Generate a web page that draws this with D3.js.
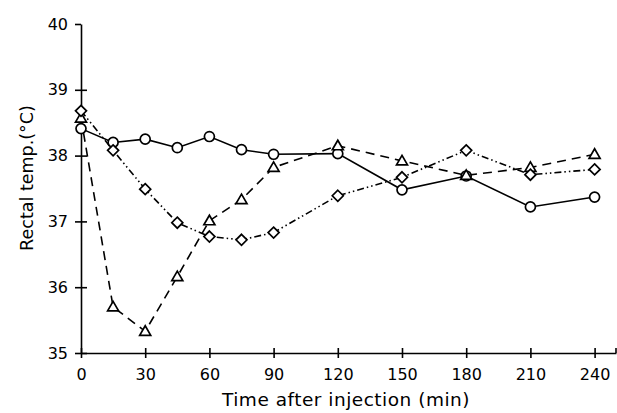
<!DOCTYPE html>
<html>
<head>
<meta charset="utf-8">
<script src="https://cdnjs.cloudflare.com/ajax/libs/d3/7.8.5/d3.min.js"></script>
<style>
	body { margin: 0; background: #fff; }
	svg { display: block; }
	.axis path, .axis line { stroke: #000; stroke-width: 1.6; fill: none; }
	.axis text { font-family: "DejaVu Sans", sans-serif; font-size: 16px; fill: #000; }
	.axisTitle { font-family: "DejaVu Sans", sans-serif; font-size: 17.5px; fill: #000; }
	.series { fill: none; stroke: #000; stroke-width: 1.6; }
	.marker { fill: #fff; stroke: #000; stroke-width: 1.7; }
</style>
</head>
<body>
<div id="chart"></div>
<script>

//---------------------------------------- Data ----------------------------------------

var times = [0, 15, 30, 45, 60, 75, 90, 120, 150, 180, 210, 240];

//Open circles, solid line
var circleTemps = [38.41, 38.20, 38.25, 38.12, 38.29, 38.09, 38.02, 38.03, 37.48, 37.69, 37.22, 37.37];
//Open triangles, dashed line
var triangleTemps = [38.57, 35.70, 35.33, 36.16, 37.01, 37.33, 37.82, 38.15, 37.92, 37.70, 37.82, 38.02];
//Open diamonds, dash-dot-dot line
var diamondTemps = [38.68, 38.08, 37.49, 36.98, 36.77, 36.72, 36.83, 37.39, 37.67, 38.08, 37.71, 37.79];

var xTicks = [0, 30, 60, 90, 120, 150, 180, 210, 240];
var yTicks = [35, 36, 37, 38, 39, 40];

var xTitle = "Time after injection (min)";
var yTitle = "Rectal temp.(\u00B0C)";

//---------------------------------------- Set up svg ----------------------------------------

var width = 617,
	height = 413;

var svg = d3.select("#chart")
	.append("svg")
	.attr("width", width)
	.attr("height", height);

var x = d3.scaleLinear()
	.domain([0, 250])
	.range([81, 616]);

var y = d3.scaleLinear()
	.domain([35, 40])
	.range([353, 24]);

//---------------------------------------- Axes ----------------------------------------

var xAxis = svg.append("g")
	.attr("class", "axis")
	.attr("transform", "translate(0," + y(35) + ")")
	.call(d3.axisBottom(x).tickValues(xTicks).tickSize(0).tickPadding(16).tickSizeOuter(0));

//ticks cross the axis line
xAxis.selectAll(".tick line").attr("y1", -5).attr("y2", 5);

//small upturned end of the time axis
xAxis.append("line")
	.attr("x1", x(250)).attr("x2", x(250))
	.attr("y1", 0).attr("y2", -5);

var yAxis = svg.append("g")
	.attr("class", "axis")
	.attr("transform", "translate(" + x(0) + ",0)")
	.call(d3.axisLeft(y).tickValues(yTicks).tickFormat(d3.format("d")).tickSize(0).tickPadding(13).tickSizeOuter(0));

yAxis.selectAll(".tick line")
	.attr("x1", -6)
	.attr("x2", function(d) { return d === 40 ? 0 : 6; });

//Axis titles
svg.append("text")
	.attr("class", "axisTitle")
	.attr("x", 346)
	.attr("y", 406)
	.style("text-anchor", "middle")
	.style("font-size", "18.5px")
	.style("letter-spacing", "0.5px")
	.text(xTitle);

svg.append("text")
	.attr("class", "axisTitle")
	.attr("transform", "translate(33," + 178 + ") rotate(-90)")
	.style("text-anchor", "middle")
	.text(yTitle);

//---------------------------------------- Lines ----------------------------------------

var series = [
	{name: "circle", values: circleTemps, dash: null},
	{name: "triangle", values: triangleTemps, dash: "9,6"},
	{name: "diamond", values: diamondTemps, dash: "7,3,1.5,3,1.5,3"}
];

var line = d3.line()
	.x(function(d) { return x(d.t); })
	.y(function(d) { return y(d.v); });

series.forEach(function(s) {
	var pts = times.map(function(t, i) { return {t: t, v: s.values[i]}; });

	svg.append("path")
		.datum(pts)
		.attr("class", "series")
		.attr("d", line)
		.style("stroke-dasharray", s.dash);
});

//---------------------------------------- Markers ----------------------------------------

var symbolPath = {
	circle: d3.symbol().type(d3.symbolCircle).size(78)(),
	triangle: "M0,-5.5L5.5,4L-5.5,4Z",
	diamond: "M0,-5.5L5.5,0L0,5.5L-5.5,0Z"
};

series.forEach(function(s) {
	var pts = times.map(function(t, i) { return {t: t, v: s.values[i]}; });

	svg.selectAll(".marker-" + s.name)
		.data(pts)
		.enter().append("path")
		.attr("class", "marker marker-" + s.name)
		.attr("transform", function(d) { return "translate(" + x(d.t) + "," + y(d.v) + ")"; })
		.attr("d", symbolPath[s.name]);
});

</script>
</body>
</html>
